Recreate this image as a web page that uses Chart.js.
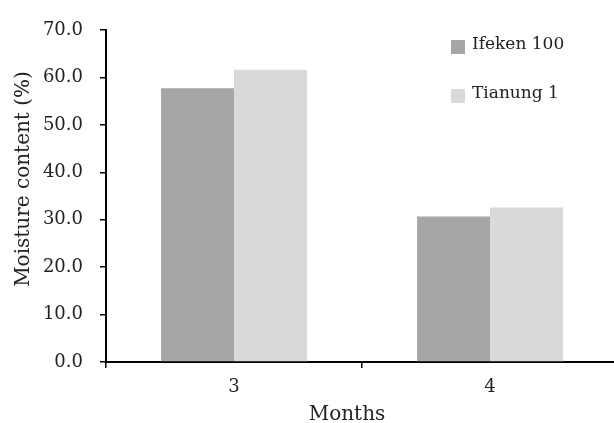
<!DOCTYPE html>
<html lang="en">
<head>
    <meta charset="UTF-8">
    <title>Moisture content</title>
    <script src="https://cdn.jsdelivr.net/npm/chart.js"></script>
    <style>
        html, body { margin: 0; padding: 0; background: #fff; overflow: hidden; }
        #wrap { width: 618px; height: 423px; }
    </style>
</head>
<body>
    <div id="wrap"><canvas id="moistureChart" width="618" height="423"></canvas></div>

    <script>
    // Chart data
    const months = ['3', '4'];
    const seriesNames = ['Ifeken 100', 'Tianung 1'];
    const ifekenValues = [57.7, 30.7];
    const tianungValues = [61.6, 32.6];
    const barColors = ['#a6a6a6', '#d9d9d9'];
    const yTitle = 'Moisture content (%)';
    const xTitle = 'Months';

    const textColor = '#222';
    const serif = '"DejaVu Serif", "Liberation Serif", serif';

    // Legend and both axis titles drawn by hand to match the figure
    const extrasPlugin = {
        id: 'extras',
        afterDraw(chart) {
            const ctx = chart.ctx;
            ctx.save();
            ctx.font = '17px ' + serif;
            ctx.textBaseline = 'middle';
            chart.data.datasets.forEach((ds, i) => {
                const y = 40 + i * 49;
                ctx.fillStyle = ds.backgroundColor;
                ctx.fillRect(451, y, 14, 14);
                ctx.fillStyle = textColor;
                ctx.fillText(ds.label, 472, y + 5);
            });

            ctx.font = '20px ' + serif;
            ctx.fillStyle = textColor;
            ctx.textAlign = 'center';
            ctx.textBaseline = 'alphabetic';
            ctx.fillText(xTitle, 347, 420);

            ctx.translate(24, 179);
            ctx.rotate(-Math.PI / 2);
            ctx.textBaseline = 'middle';
            ctx.fillText(yTitle, 0, 0);
            ctx.restore();
        }
    };

    function renderChart() {
        new Chart(document.getElementById('moistureChart'), {
            type: 'bar',
            data: {
                labels: months,
                datasets: [
                    { label: seriesNames[0], data: ifekenValues, backgroundColor: barColors[0] },
                    { label: seriesNames[1], data: tianungValues, backgroundColor: barColors[1] }
                ]
            },
            options: {
                responsive: false,
                animation: false,
                layout: { padding: { top: 30, left: 0, right: 0, bottom: 0 } },
                datasets: { bar: { barPercentage: 1.0, categoryPercentage: 0.57 } },
                plugins: { legend: { display: false }, tooltip: { enabled: false } },
                scales: {
                    x: {
                        grid: { drawOnChartArea: false, drawTicks: true, tickLength: 6, color: '#000', lineWidth: 1.5 },
                        border: { color: '#000', width: 2 },
                        ticks: { color: textColor, font: { family: serif, size: 18 }, padding: 9 },
                        afterFit(scale) { scale.height = 61; }
                    },
                    y: {
                        min: 0,
                        max: 70,
                        ticks: {
                            stepSize: 10,
                            color: textColor,
                            font: { family: serif, size: 18 },
                            padding: 17,
                            callback: v => Number(v).toFixed(1)
                        },
                        grid: { drawOnChartArea: false, drawTicks: true, tickLength: 6, color: '#000', lineWidth: 1.5 },
                        border: { color: '#000', width: 2 },
                        afterFit(scale) { scale.width = 106; }
                    }
                }
            },
            plugins: [extrasPlugin]
        });
    }

    document.addEventListener('DOMContentLoaded', renderChart);
    </script>
</body>
</html>
